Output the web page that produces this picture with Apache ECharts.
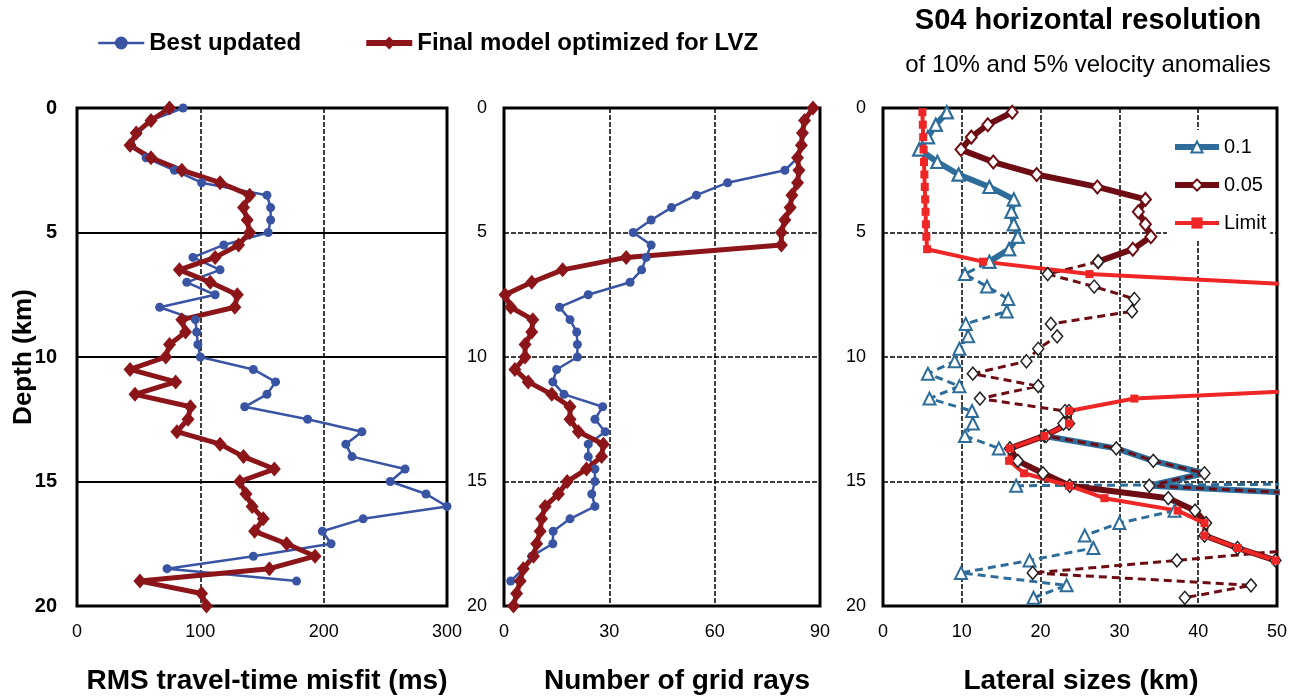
<!DOCTYPE html>
<html>
<head>
<meta charset="utf-8">
<script src="https://cdn.jsdelivr.net/npm/echarts@6.0.0/dist/echarts.min.js"></script>
<style>
  html, body { margin: 0; padding: 0; background: #fff; }
  #chart { width: 1298px; height: 699px; }
</style>
</head>
<body>
<div id="chart"></div>
<script>
// depth sampling of the left two panels (km)
const depths = [0, 0.5, 1, 1.5, 2, 2.5, 3, 3.5, 4, 4.5, 5, 5.5, 6, 6.5, 7, 7.5, 8, 8.5, 9, 9.5, 10,
  10.5, 11, 11.5, 12, 12.5, 13, 13.5, 14, 14.5, 15, 15.5, 16, 16.5, 17, 17.5, 18, 18.5, 19, 19.5, 20]

// RMS travel-time misfit (ms)
const misfitBest = [86, 60, 49, 44, 56, 79, 101, 154, 157, 157, 155, 119, 94, 116, 89, 112, 67, 96, 97, 98, 100,
  143, 161, 154, 136, 187, 231, 218, 223, 266, 254, 283, 300, 232, 199, 206, 143, 73, 178, null, null]
const misfitFinal = [75, 60, 48, 43, 60, 85, 116, 140, 135, 138, 140, 131, 112, 83, 108, 130, 128, 85, 88, 75, 72,
  43, 80, 47, 92, 90, 81, 116, 135, 160, 132, 137, 142, 151, 144, 170, 193, 156, 51, 101, 105]

// number of grid rays
const raysBest = [88, 85.6, 85, 84.7, 83.6, 80, 63.7, 54.8, 47.7, 41.9, 36.8, 41.9, 40.5, 39.2, 35.9, 24, 15.8, 18.8, 20.7, 20.9, 20.9,
  15, 13.9, 17.1, 28.1, 25.9, 28.8, 24, 24, 25.9, 25.9, 25, 25.9, 18.8, 14, 13.9, 7.9, 5.5, 1.9, null, null]
const raysFinal = [88, 85.6, 85, 84.7, 83.6, 84, 83.6, 82, 81.5, 80, 79, 79, 34.8, 16.7, 7.9, 0.3, 1.9, 8.2, 7.9, 6, 6,
  3.1, 6.9, 13.6, 18.8, 18.8, 21.2, 28.3, 27.8, 23.5, 18, 15.5, 11.7, 10.7, 10.3, 9.3, 8.4, 5.5, 4.6, 3.6, 2.7]

// depth sampling of the resolution panel (km)
const resDepths = [0.17, 0.67, 1.17, 1.67, 2.17, 2.67, 3.17, 3.67, 4.17, 4.67, 5.17, 5.67, 6.17, 6.67, 7.17, 7.67,
  8.17, 8.67, 9.17, 9.67, 10.17, 10.67, 11.17, 11.67, 12.17, 12.67, 13.17, 13.67, 14.17, 14.67, 15.17, 15.67,
  16.17, 16.67, 17.17, 17.67, 18.17, 18.67, 19.17, 19.67]

// lateral sizes (km), 10% anomaly: all values / resolved part / second resolved band
const res10All = [8.1, 6.7, 5.7, 4.6, 6.9, 9.6, 13.5, 16.6, 16.3, 16.6, 17.1, 16.0, 13.5, 10.4, 13.2, 15.9,
  15.7, 10.5, 10.8, 9.7, 9.1, 5.7, 9.7, 5.9, 11.3, 11.4, 10.4, 14.7, null, 300, 16.9, null,
  37.0, 30.0, 25.6, 26.7, 18.6, 9.9, 23.3, 19.1]
const res10Fit = [8.1, 6.7, 5.7, 4.6, 6.9, 9.6, 13.5, 16.6, 16.3, 16.6, 17.1, 16.0, 13.5, null, null, null,
  null, null, null, null, null, null, null, null, null, null, null, null, null, null, null, null,
  null, null, null, null, null, null, null, null]
const res10Band = [null, null, null, null, null, null, null, null, null, null, null, null, null, null, null, null,
  null, null, null, null, null, null, null, null, null, null, 20.5, 29.6, 34.3, 40.8, 33.8, 65,
  null, null, null, null, null, null, null, null]

// lateral sizes (km), 5% anomaly
const res05All = [null, null, null, null, null, null, null, null, null, null, null, null, 27.3, 20.9, 26.8, 31.9,
  31.6, 21.3, 22.1, 19.7, 18.2, 11.4, 19.7, 12.3, 23.1, 22.9, 20.7, 29.6, 34.3, 40.8, 33.8, 65,
  null, null, null, 55, 37.3, 19.0, 46.7, 38.3]
const res05Fit = [16.4, 13.3, 11.2, 9.9, 14.0, 19.5, 27.2, 33.3, 32.4, 33.3, 34.0, 31.7, 27.3, null, null, null,
  null, null, null, null, null, null, null, null, null, null, null, null, null, null, null, null,
  null, null, null, null, null, null, null, null]
const res05Band = [null, null, null, null, null, null, null, null, null, null, null, null, null, null, null, null,
  null, null, null, null, null, null, null, null, 23.6, 23.6, 20.5, 16.1, 17.1, 20.3, 23.7, 36.2,
  39.6, 41.0, 40.8, 45.0, 49.8, null, null, null]

// resolution limit (km)
const limit = [5.0, 5.05, 5.1, 5.15, 5.2, 5.25, 5.3, 5.35, 5.4, 5.45, 5.5, 5.6, 12.7, 26.2, 57, null,
  null, null, null, null, null, null, 65, 31.9, 23.6, 23.6, 20.5, 16.1, 16.0, 17.9, 23.6, 28.1,
  37.4, 40.8, 40.8, 45.0, 49.8, null, null, null]

const FONT = "'Liberation Sans', Arial, sans-serif"
const BLUE = '#3A54A4'
const DARKRED = '#8C1519'
const STEEL = '#2E6D9A'
const WINE = '#6E0C13'
const LIMITRED = '#EE2626'

const pair = (xs, ds) => xs.map((v, i) => [v == null ? '-' : v, ds[i]])

const chart = echarts.init(document.getElementById('chart'))

const gridBox = (left, width) => ({
  left, top: 108, width, height: 498,
  show: true, borderColor: '#000', borderWidth: 3, containLabel: false
})

const xAxisOf = (gridIndex, max, interval, dashed) => ({
  type: 'value', gridIndex, min: 0, max, interval,
  axisLine: { show: false }, axisTick: { show: false },
  axisLabel: { color: '#000', fontFamily: FONT, fontSize: 18, margin: 17 },
  splitLine: { show: true, lineStyle: { color: '#000', width: 1.5, type: dashed ? [5, 2] : 'solid' } }
})

const yAxisOf = (gridIndex, bold, dashed) => ({
  type: 'value', gridIndex, min: 0, max: 20, interval: 5, inverse: true,
  axisLine: { show: false }, axisTick: { show: false },
  axisLabel: { color: '#000', fontFamily: FONT, fontSize: bold ? 20 : 18, fontWeight: bold ? 'bold' : 'normal', margin: bold ? 20 : 17 },
  splitLine: { show: true, lineStyle: { color: '#000', width: dashed ? 1.5 : 2, type: dashed ? [5, 2] : 'solid' } }
})

const bestStyle = {
  type: 'line', symbol: 'circle', symbolSize: 9,
  itemStyle: { color: BLUE }, lineStyle: { color: BLUE, width: 2.5 }
}
const finalStyle = {
  type: 'line', symbol: 'diamond', symbolSize: [13, 15],
  itemStyle: { color: DARKRED }, lineStyle: { color: DARKRED, width: 5 }
}

const option = {
  animation: false,
  backgroundColor: '#fff',
  textStyle: { fontFamily: FONT },
  grid: [gridBox(77, 370), gridBox(504, 316), gridBox(883, 394)],
  xAxis: [xAxisOf(0, 300, 100, true), xAxisOf(1, 90, 30, true), xAxisOf(2, 50, 10, true)],
  yAxis: [yAxisOf(0, true, false), yAxisOf(1, false, true), yAxisOf(2, false, true)],
  legend: [
    {
      left: 97, top: 31, padding: 0, itemWidth: 46, itemHeight: 16, itemGap: 62,
      textStyle: { fontFamily: FONT, fontSize: 24, fontWeight: 'bold', color: '#000' },
      data: [
        { name: 'Best updated', lineStyle: { width: 2.5 } },
        { name: 'Final model optimized for LVZ', lineStyle: { width: 6 } }
      ]
    },
    {
      left: 1167, top: 130, orient: 'vertical', itemWidth: 44, itemHeight: 14, itemGap: 18,
      backgroundColor: '#fff', padding: [7, 4, 7, 5],
      textStyle: { fontFamily: FONT, fontSize: 20, color: '#000' },
      data: [
        { name: '0.1', lineStyle: { width: 6 } },
        { name: '0.05', lineStyle: { width: 6 } },
        { name: 'Limit', lineStyle: { width: 4 } }
      ]
    }
  ],
  series: [
    { ...bestStyle, name: 'Best updated', xAxisIndex: 0, yAxisIndex: 0, data: pair(misfitBest, depths) },
    { ...finalStyle, name: 'Final model optimized for LVZ', xAxisIndex: 0, yAxisIndex: 0, data: pair(misfitFinal, depths) },
    { ...bestStyle, name: 'Best updated', xAxisIndex: 1, yAxisIndex: 1, data: pair(raysBest, depths) },
    { ...finalStyle, name: 'Final model optimized for LVZ', xAxisIndex: 1, yAxisIndex: 1, data: pair(raysFinal, depths) },
    {
      type: 'line', name: '0.1 all', xAxisIndex: 2, yAxisIndex: 2, data: pair(res10All, resDepths),
      symbol: 'triangle', symbolSize: 12,
      itemStyle: { color: '#fff', borderColor: STEEL, borderWidth: 2 },
      lineStyle: { color: STEEL, width: 3, type: [8, 5] }
    },
    {
      type: 'line', name: '0.1', xAxisIndex: 2, yAxisIndex: 2, data: pair(res10Fit, resDepths),
      symbol: 'triangle', symbolSize: 12,
      itemStyle: { color: '#fff', borderColor: STEEL, borderWidth: 2 },
      lineStyle: { color: STEEL, width: 6 }
    },
    {
      type: 'line', name: '0.1 band', xAxisIndex: 2, yAxisIndex: 2, data: pair(res10Band, resDepths),
      symbol: 'none', lineStyle: { color: STEEL, width: 6 }
    },
    {
      type: 'line', name: '0.05', xAxisIndex: 2, yAxisIndex: 2, data: pair(res05Fit, resDepths),
      symbol: 'diamond', symbolSize: [11, 13],
      itemStyle: { color: '#fff', borderColor: WINE, borderWidth: 2 },
      lineStyle: { color: WINE, width: 6 }
    },
    {
      type: 'line', name: '0.05 band', xAxisIndex: 2, yAxisIndex: 2, data: pair(res05Band, resDepths),
      symbol: 'diamond', symbolSize: [11, 13],
      itemStyle: { color: '#fff', borderColor: '#222', borderWidth: 1.5 },
      lineStyle: { color: WINE, width: 6 }
    },
    {
      type: 'line', name: '0.05 all', xAxisIndex: 2, yAxisIndex: 2, data: pair(res05All, resDepths),
      symbol: 'diamond', symbolSize: [11, 13],
      itemStyle: { color: '#fff', borderColor: '#222', borderWidth: 1.5 },
      lineStyle: { color: WINE, width: 3, type: [8, 5] }
    },
    {
      type: 'line', name: 'Limit', xAxisIndex: 2, yAxisIndex: 2, data: pair(limit, resDepths),
      symbol: 'rect', symbolSize: 8,
      itemStyle: { color: LIMITRED }, lineStyle: { color: LIMITRED, width: 4 }
    }
  ],
  graphic: [
    { type: 'text', x: 1088, y: 21, style: { text: 'S04 horizontal resolution', font: `bold 29px ${FONT}`, fill: '#000', align: 'center', verticalAlign: 'middle' } },
    { type: 'text', x: 1088, y: 65, style: { text: 'of 10% and 5% velocity anomalies', font: `24px ${FONT}`, fill: '#000', align: 'center', verticalAlign: 'middle' } },
    { type: 'text', x: 267, y: 681, style: { text: 'RMS travel-time misfit (ms)', font: `bold 28px ${FONT}`, fill: '#000', align: 'center', verticalAlign: 'middle' } },
    { type: 'text', x: 677, y: 681, style: { text: 'Number of grid rays', font: `bold 28px ${FONT}`, fill: '#000', align: 'center', verticalAlign: 'middle' } },
    { type: 'text', x: 1081, y: 681, style: { text: 'Lateral sizes (km)', font: `bold 28px ${FONT}`, fill: '#000', align: 'center', verticalAlign: 'middle' } },
    { type: 'text', x: 24, y: 357, rotation: Math.PI / 2, style: { text: 'Depth (km)', font: `bold 26px ${FONT}`, fill: '#000', align: 'center', verticalAlign: 'middle' } }
  ]
}

chart.setOption(option)
</script>
</body>
</html>
